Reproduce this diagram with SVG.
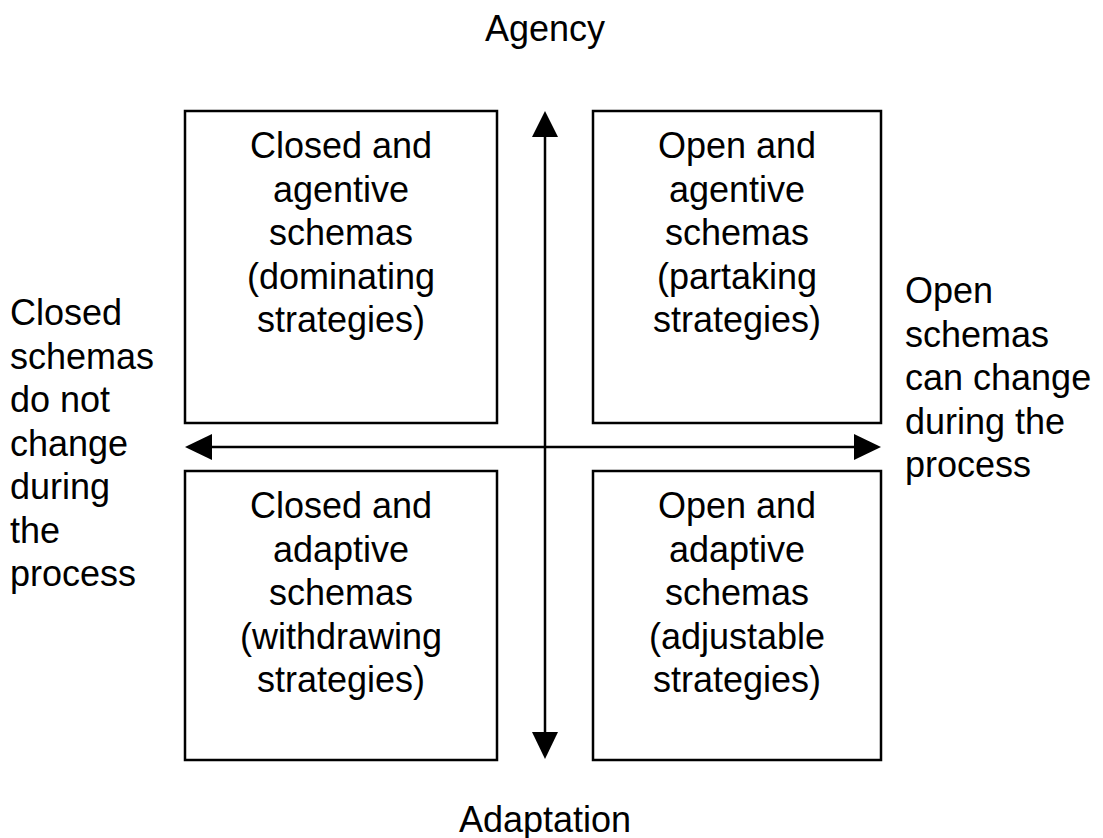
<svg xmlns="http://www.w3.org/2000/svg" width="1103" height="838" viewBox="0 0 1103 838">
<style>
.box{fill:#fff;stroke:#000;stroke-width:2.5}
.ln{stroke:#000;stroke-width:2.5;fill:none}
.head{fill:#000;stroke:none}
text{font-family:"Liberation Sans",Arial,sans-serif;font-size:36px;fill:#000}
.c{text-anchor:middle}
</style>
<rect width="1103" height="838" fill="#fff"/>
<g id="connectors">
<line class="ln" x1="545" y1="135" x2="545" y2="734"/>
<line class="ln" x1="210" y1="447" x2="855" y2="447"/>
<polygon class="head" points="545,111 532,137 558,137"/>
<polygon class="head" points="545,759 532,732 558,732"/>
<polygon class="head" points="185,447 212,434 212,460"/>
<polygon class="head" points="881,447 854,434 854,460"/>
</g>
<g id="agency"><text class="c" x="545" y="41">Agency</text></g>
<g id="adaptation"><text class="c" x="545" y="832">Adaptation</text></g>
<g id="tl">
<rect class="box" x="185" y="111" width="312" height="312"/>
<text class="c" x="341" y="158">Closed and</text>
<text class="c" x="341" y="201.5">agentive</text>
<text class="c" x="341" y="245">schemas</text>
<text class="c" x="341" y="288.5">(dominating</text>
<text class="c" x="341" y="332">strategies)</text>
</g>
<g id="tr">
<rect class="box" x="593" y="111" width="288" height="312"/>
<text class="c" x="737" y="158">Open and</text>
<text class="c" x="737" y="201.5">agentive</text>
<text class="c" x="737" y="245">schemas</text>
<text class="c" x="737" y="288.5">(partaking</text>
<text class="c" x="737" y="332">strategies)</text>
</g>
<g id="bl">
<rect class="box" x="185" y="471" width="312" height="289"/>
<text class="c" x="341" y="518">Closed and</text>
<text class="c" x="341" y="561.5">adaptive</text>
<text class="c" x="341" y="605">schemas</text>
<text class="c" x="341" y="648.5">(withdrawing</text>
<text class="c" x="341" y="692">strategies)</text>
</g>
<g id="br">
<rect class="box" x="593" y="471" width="288" height="289"/>
<text class="c" x="737" y="518">Open and</text>
<text class="c" x="737" y="561.5">adaptive</text>
<text class="c" x="737" y="605">schemas</text>
<text class="c" x="737" y="648.5">(adjustable</text>
<text class="c" x="737" y="692">strategies)</text>
</g>
<g id="left-label">
<text x="10" y="325">Closed</text>
<text x="10" y="368.5">schemas</text>
<text x="10" y="412">do not</text>
<text x="10" y="455.5">change</text>
<text x="10" y="499">during</text>
<text x="10" y="542.5">the</text>
<text x="10" y="586">process</text>
</g>
<g id="right-label">
<text x="905" y="303">Open</text>
<text x="905" y="346.5">schemas</text>
<text x="905" y="390">can change</text>
<text x="905" y="433.5">during the</text>
<text x="905" y="477">process</text>
</g>
</svg>
